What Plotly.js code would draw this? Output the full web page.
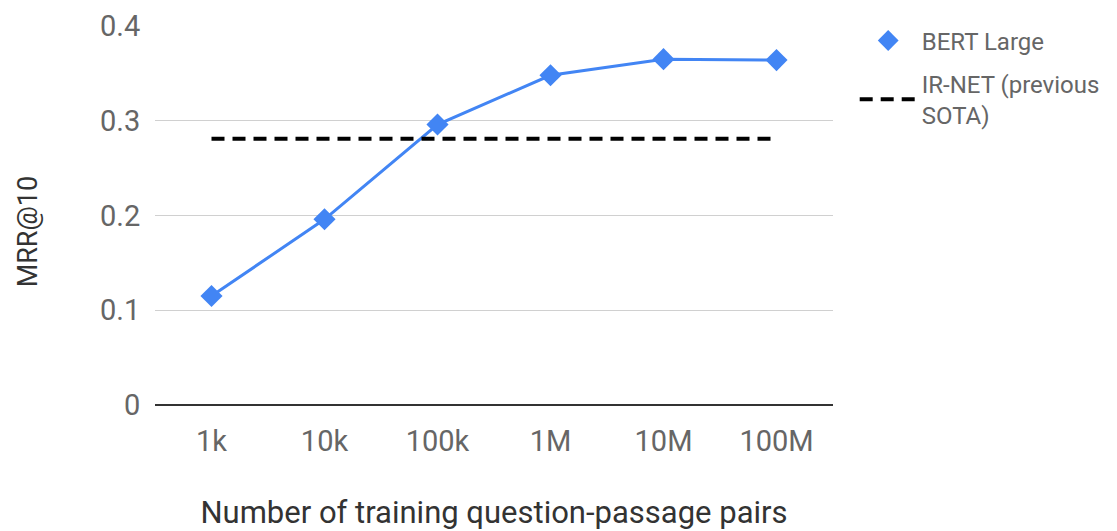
<!DOCTYPE html>
<html>
<head>
<meta charset="utf-8">
<script src="https://cdn.plot.ly/plotly-3.0.1.min.js"></script>
<style>html,body{margin:0;padding:0;background:#fff;}#chart{width:1117px;height:531px;}</style>
</head>
<body>
<div id="chart"></div>
<script>
const categories = ["1k", "10k", "100k", "1M", "10M", "100M"];
const bertLarge = [0.115, 0.196, 0.296, 0.348, 0.365, 0.364];
const irNet = [0.281, 0.281, 0.281, 0.281, 0.281, 0.281];
const seriesNames = ["BERT Large", "IR-NET (previous<br>SOTA)"];
const xTitle = "Number of training question-passage pairs";
const yTitle = "MRR@10";

const textColor = "#666666";
const titleColor = "#333333";
const font = "Roboto, 'Open Sans', sans-serif";
const blue = "#4285F4";

const traces = [
  {
    x: categories, y: bertLarge, name: seriesNames[0],
    type: "scatter", mode: "lines", showlegend: false,
    line: {color: blue, width: 3}, hoverinfo: "skip"
  },
  {
    x: categories, y: bertLarge, name: seriesNames[0],
    type: "scatter", mode: "markers", legendgroup: "a",
    marker: {symbol: "diamond", size: 17, color: blue}
  },
  {
    x: categories, y: irNet, name: seriesNames[1],
    type: "scatter", mode: "lines", legendgroup: "b",
    line: {color: "#000000", width: 4, dash: "13px,8px"}
  }
];

const layout = {
  width: 1117, height: 531,
  margin: {l: 155, r: 282, t: 26, b: 126},
  paper_bgcolor: "#ffffff", plot_bgcolor: "#ffffff",
  font: {family: font, color: textColor, size: 28},
  showlegend: true,
  legend: {
    x: 1.032, y: 1.02, xanchor: "left", yanchor: "top",
    font: {size: 24, color: textColor, family: font},
    itemwidth: 57, tracegroupgap: 9, traceorder: "grouped",
    bgcolor: "rgba(0,0,0,0)"
  },
  xaxis: {
    type: "category", range: [-0.5, 5.5],
    showgrid: false, zeroline: false, showline: false,
    ticks: "outside", ticklen: 10, tickcolor: "rgba(0,0,0,0)",
    tickfont: {size: 29, color: textColor, family: font},
    title: {text: xTitle, font: {size: 31, color: titleColor, family: font}, standoff: 46},
    automargin: false, fixedrange: true
  },
  yaxis: {
    range: [0, 0.4], dtick: 0.1, tick0: 0,
    showgrid: true, gridcolor: "#d0d0d0", gridwidth: 1,
    zeroline: true, zerolinecolor: "#333333", zerolinewidth: 1.5,
    showline: false,
    ticks: "outside", ticklen: 8, tickcolor: "rgba(0,0,0,0)",
    tickfont: {size: 29, color: textColor, family: font},
    automargin: false, fixedrange: true
  },
  annotations: [
    {
      text: yTitle, textangle: -90, showarrow: false,
      xref: "paper", yref: "paper",
      x: (28.5 - 155) / 680, y: (405 - 231.5) / 379,
      xanchor: "center", yanchor: "middle",
      font: {size: 27, color: titleColor, family: font}
    }
  ]
};

Plotly.newPlot("chart", traces, layout, {displayModeBar: false, staticPlot: true});
</script>
</body>
</html>
